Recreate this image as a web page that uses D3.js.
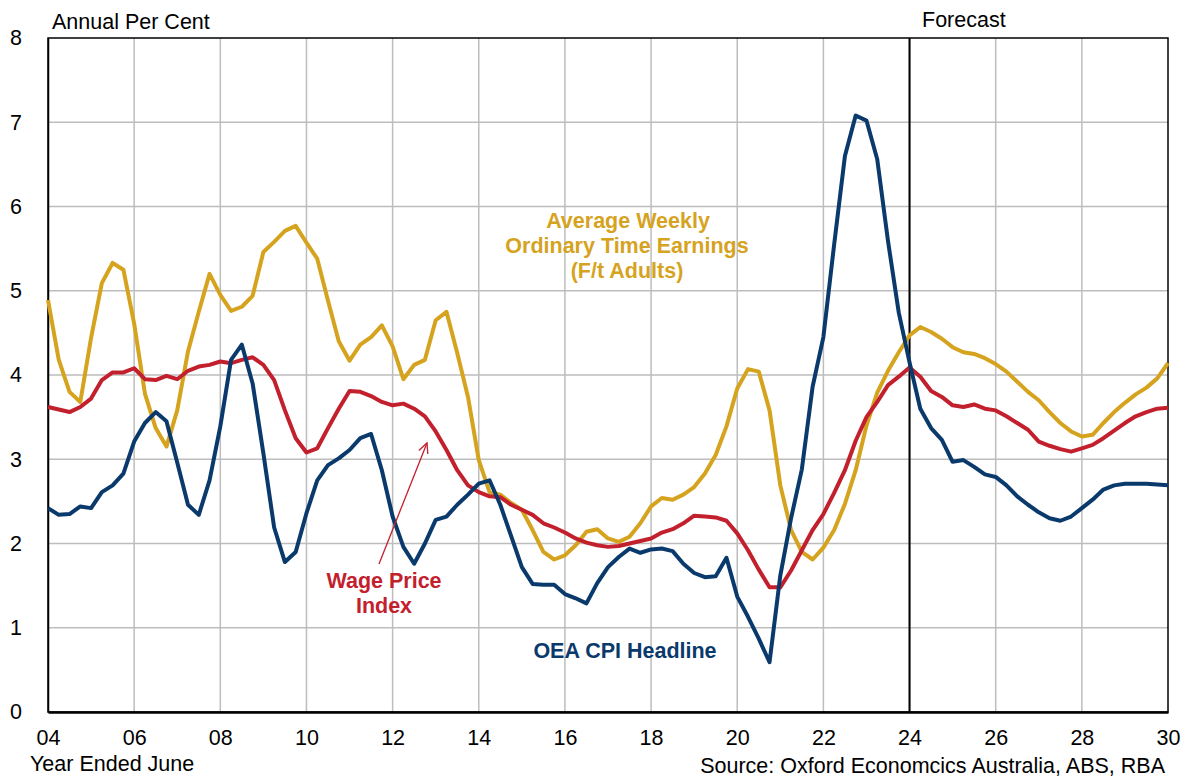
<!DOCTYPE html>
<html>
<head>
<meta charset="utf-8">
<script src="https://cdn.jsdelivr.net/npm/d3@7"></script>
<style>
  body { margin: 0; background: #fff; }
  text { font-family: "Liberation Sans", Arial, sans-serif; }
</style>
</head>
<body>
<script>
// quarterly, year ended June; first point is June 2004
var startYear = 2004;

var cpi = [2.42, 2.34, 2.35, 2.44, 2.42, 2.61, 2.69, 2.83, 3.21, 3.43, 3.56, 3.45, 2.96, 2.46, 2.34, 2.75,
  3.39, 4.18, 4.36, 3.90, 3.07, 2.19, 1.78, 1.90, 2.36, 2.75, 2.93, 3.01, 3.11, 3.25, 3.30, 2.87,
  2.32, 1.96, 1.76, 2.00, 2.28, 2.32, 2.46, 2.58, 2.71, 2.75, 2.46, 2.09, 1.72, 1.52, 1.51, 1.51,
  1.40, 1.35, 1.29, 1.53, 1.72, 1.84, 1.94, 1.89, 1.93, 1.94, 1.91, 1.76, 1.65, 1.60, 1.61, 1.83,
  1.37, 1.13, 0.87, 0.59, 1.62, 2.30, 2.88, 3.86, 4.45, 5.55, 6.60, 7.08, 7.02, 6.56, 5.59, 4.74,
  4.15, 3.60, 3.37, 3.23, 2.97, 2.99, 2.91, 2.82, 2.79, 2.69, 2.56, 2.46, 2.37, 2.30, 2.27, 2.32,
  2.42, 2.52, 2.64, 2.69, 2.71, 2.71, 2.71, 2.70, 2.69];

var wpi = [3.62, 3.59, 3.56, 3.62, 3.72, 3.94, 4.03, 4.03, 4.08, 3.95, 3.94, 3.99, 3.95, 4.05, 4.10, 4.12,
  4.16, 4.14, 4.18, 4.21, 4.12, 3.94, 3.58, 3.25, 3.08, 3.13, 3.37, 3.60, 3.81, 3.80, 3.75, 3.68,
  3.64, 3.66, 3.60, 3.51, 3.33, 3.11, 2.87, 2.69, 2.61, 2.56, 2.55, 2.46, 2.40, 2.34, 2.24, 2.19,
  2.13, 2.06, 2.01, 1.98, 1.96, 1.97, 2.00, 2.03, 2.06, 2.13, 2.17, 2.24, 2.33, 2.32, 2.31, 2.27,
  2.12, 1.92, 1.69, 1.48, 1.48, 1.68, 1.92, 2.16, 2.35, 2.60, 2.87, 3.22, 3.50, 3.68, 3.88, 3.98,
  4.09, 3.98, 3.81, 3.74, 3.64, 3.62, 3.65, 3.60, 3.58, 3.51, 3.43, 3.35, 3.21, 3.16, 3.12, 3.09,
  3.13, 3.17, 3.25, 3.34, 3.43, 3.51, 3.56, 3.60, 3.61];

var awote = [4.89, 4.18, 3.80, 3.68, 4.44, 5.09, 5.33, 5.25, 4.61, 3.78, 3.37, 3.15, 3.58, 4.28, 4.75, 5.20,
  4.95, 4.76, 4.81, 4.94, 5.46, 5.58, 5.71, 5.77, 5.57, 5.38, 4.88, 4.40, 4.17, 4.36, 4.45, 4.59,
  4.34, 3.95, 4.12, 4.18, 4.65, 4.75, 4.26, 3.74, 2.99, 2.61, 2.58, 2.48, 2.40, 2.16, 1.90, 1.81,
  1.86, 1.98, 2.14, 2.17, 2.06, 2.02, 2.08, 2.24, 2.44, 2.54, 2.52, 2.58, 2.67, 2.83, 3.05, 3.39,
  3.84, 4.07, 4.04, 3.58, 2.69, 2.16, 1.90, 1.81, 1.95, 2.16, 2.47, 2.87, 3.40, 3.79, 4.05, 4.27,
  4.47, 4.57, 4.51, 4.43, 4.33, 4.27, 4.25, 4.20, 4.13, 4.04, 3.92, 3.80, 3.70, 3.56, 3.43, 3.33,
  3.27, 3.29, 3.43, 3.56, 3.67, 3.77, 3.85, 3.96, 4.14];

var xTickYears = [2004, 2006, 2008, 2010, 2012, 2014, 2016, 2018, 2020, 2022, 2024, 2026, 2028, 2030];
var xTickLabels = ['04', '06', '08', '10', '12', '14', '16', '18', '20', '22', '24', '26', '28', '30'];
var yTicks = [0, 1, 2, 3, 4, 5, 6, 7, 8];
var forecastYear = 2024;

var width = 1189, height = 778;
var margin = {left: 48, top: 38, right: 21, bottom: 66};
var fs = 21.5;

var navy = '#0a3a6c', red = '#c3202e', gold = '#d6a31f';

var svg = d3.select('body').append('svg')
  .attr('width', width)
  .attr('height', height);

var x = d3.scaleLinear()
  .domain([2004, 2030])
  .range([margin.left, width - margin.right]);

var y = d3.scaleLinear()
  .domain([0, 8])
  .range([height - margin.bottom, margin.top]);

// gridlines
var grid = svg.append('g');
grid.selectAll('.hg').data(yTicks.slice(1, -1)).enter().append('line')
  .attr('x1', x.range()[0]).attr('x2', x.range()[1])
  .attr('y1', d => y(d)).attr('y2', d => y(d))
  .attr('stroke', '#bdbdbd').attr('stroke-width', 1.5);
grid.selectAll('.vg').data(xTickYears.slice(1, -1)).enter().append('line')
  .attr('x1', d => x(d)).attr('x2', d => x(d))
  .attr('y1', y(0)).attr('y2', y(8))
  .attr('stroke', '#bdbdbd').attr('stroke-width', 1.5);

// frame
svg.append('rect')
  .attr('x', x(2004)).attr('y', y(8))
  .attr('width', x(2030) - x(2004)).attr('height', y(0) - y(8))
  .attr('fill', 'none').attr('stroke', '#000').attr('stroke-width', 1.5);

// forecast divider
svg.append('line')
  .attr('x1', x(forecastYear)).attr('x2', x(forecastYear))
  .attr('y1', y(0)).attr('y2', y(8))
  .attr('stroke', '#000').attr('stroke-width', 2);

// axes
var yAxis = d3.axisLeft(y).tickValues(yTicks).tickSize(0).tickPadding(26);
svg.append('g')
  .attr('transform', 'translate(' + x(2004) + ',0)')
  .call(yAxis)
  .call(g => g.select('.domain').attr('stroke', '#000').attr('stroke-width', 1.5))
  .call(g => g.selectAll('text').attr('font-size', fs).attr('fill', '#000')
    .style('font-family', '"Liberation Sans", Arial, sans-serif'));

var xAxis = d3.axisBottom(x).tickValues(xTickYears)
  .tickFormat((d, i) => xTickLabels[i]).tickSize(0).tickPadding(18);
svg.append('g')
  .attr('transform', 'translate(0,' + y(0) + ')')
  .call(xAxis)
  .call(g => g.select('.domain').attr('stroke', '#000').attr('stroke-width', 2.5))
  .call(g => g.selectAll('text').attr('font-size', fs).attr('fill', '#000')
    .style('font-family', '"Liberation Sans", Arial, sans-serif'));

// series
var line = d3.line()
  .x((d, i) => x(startYear + i / 4))
  .y(d => y(d));

[[awote, gold], [wpi, red], [cpi, navy]].forEach(function(s) {
  svg.append('path')
    .datum(s[0])
    .attr('d', line)
    .attr('fill', 'none')
    .attr('stroke', s[1])
    .attr('stroke-width', 4)
    .attr('stroke-linejoin', 'round');
});

// texts
function txt(t, px, py, opts) {
  opts = opts || {};
  return svg.append('text')
    .attr('x', px).attr('y', py)
    .attr('font-size', opts.size || fs)
    .attr('font-weight', opts.bold ? 'bold' : 'normal')
    .attr('fill', opts.fill || '#000')
    .attr('text-anchor', opts.anchor || 'start')
    .text(t);
}

txt('Annual Per Cent', 52, 29);
txt('Forecast', 922, 27);
txt('Year Ended June', 30, 771);
txt('Source: Oxford Economcics Australia, ABS, RBA', 1165, 773, {anchor: 'end'});

txt('Average Weekly', 628, 228, {bold: true, fill: gold, anchor: 'middle'});
txt('Ordinary Time Earnings', 627, 253, {bold: true, fill: gold, anchor: 'middle'});
txt('(F/t Adults)', 627, 278, {bold: true, fill: gold, anchor: 'middle'});

txt('Wage Price', 384, 588, {bold: true, fill: red, anchor: 'middle'});
txt('Index', 384, 613, {bold: true, fill: red, anchor: 'middle'});

txt('OEA CPI Headline', 625, 658, {bold: true, fill: navy, anchor: 'middle'});

// arrow pointing to WPI line
var ax1 = 379, ay1 = 564, ax2 = 427, ay2 = 443;
svg.append('line')
  .attr('x1', ax1).attr('y1', ay1).attr('x2', ax2).attr('y2', ay2)
  .attr('stroke', red).attr('stroke-width', 1.3);
var ang = Math.atan2(ay2 - ay1, ax2 - ax1);
var hl = 11, hw = 0.45;
svg.append('path')
  .attr('d', 'M' + (ax2 - hl * Math.cos(ang - hw)) + ',' + (ay2 - hl * Math.sin(ang - hw)) +
    'L' + ax2 + ',' + ay2 +
    'L' + (ax2 - hl * Math.cos(ang + hw)) + ',' + (ay2 - hl * Math.sin(ang + hw)))
  .attr('fill', 'none').attr('stroke', red).attr('stroke-width', 1.3);
</script>
</body>
</html>
